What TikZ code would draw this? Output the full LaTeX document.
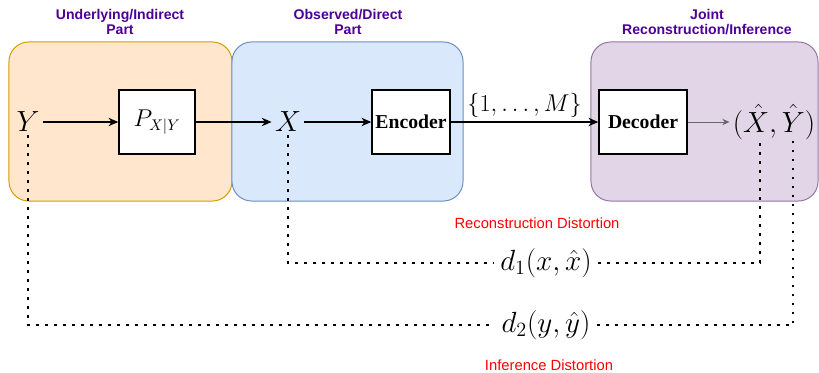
\documentclass[tikz,border=0pt]{standalone}
\usepackage{amsmath}
\usepackage{fontspec}
\setsansfont{Liberation Sans}
\newfontfamily\timesfont{Liberation Serif}
\usepackage{tikz}
\usetikzlibrary{arrows.meta}
\usetikzlibrary{calc}
\usetikzlibrary{positioning}

\definecolor{orfill}{HTML}{FFE6CC}
\definecolor{ordraw}{HTML}{D79B00}
\definecolor{blfill}{HTML}{DAE8FC}
\definecolor{bldraw}{HTML}{6C8EBF}
\definecolor{pufill}{HTML}{E1D5E7}
\definecolor{pudraw}{HTML}{9673A6}
\definecolor{titlecol}{HTML}{4C0099}

\begin{document}
\begin{tikzpicture}[x=0.025cm,y=-0.025cm,>={Stealth[length=7pt,width=6pt]},line width=0.9pt]
	\tikzstyle{region}=[draw, rounded corners=14pt, line width=0.7pt, minimum height=3.975cm]
	\tikzstyle{block}=[draw=black, fill=white, line width=1pt, minimum width=1.9cm, minimum height=1.6cm, inner sep=0pt]
	\tikzstyle{title}=[text=titlecol, font=\sffamily\bfseries\fontsize{10}{11.3}\selectfont, align=center, inner sep=0pt]
	\tikzstyle{red label}=[text=red, font=\sffamily\fontsize{10.5}{12}\selectfont, inner sep=0pt]
	\tikzstyle{var}=[font=\fontsize{20}{24}\selectfont, inner sep=2pt]
	\tikzstyle{dist}=[dotted, line width=2pt, dash pattern=on 2pt off 4.4pt]
	\useasboundingbox (0,0) rectangle (819,373);

	% regions
	\node[region, fill=orfill, draw=ordraw, minimum width=5.575cm] (under) at (120.5,121.5) {};
	\node[region, fill=blfill, draw=bldraw, minimum width=5.775cm] (obs) at (347.5,121.5) {};
	\node[region, fill=pufill, draw=pudraw, minimum width=5.675cm] (joint) at (704.5,121.5) {};

	\node[title] (tunder) at (120,22) {Underlying/Indirect\\Part};
	\node[title] (tobs) at (348,22) {Observed/Direct\\Part};
	\node[title] (tjoint) at (707,22) {Joint\\Reconstruction/Inference};

	% chain
	\node[var] (Y) at (28,122) {$Y$};
	\node[block] (P) at (157,122) {\fontsize{16}{19}\selectfont$P_{X|Y}$};
	\node[var] (X) at (288,122) {$X$};
	\node[block, minimum width=1.95cm] (enc) at (411,122) {\timesfont\bfseries\fontsize{14}{16}\selectfont Encoder};
	\node[block, minimum width=2.2cm] (dec) at (643,122) {\timesfont\bfseries\fontsize{14}{16}\selectfont Decoder};
	\node[var] (out) at (774,122) {$(\hat{X},\hat{Y})$};
	\coordinate (xh) at (760,140);
	\coordinate (yh) at (793,140);

	\draw[->] (Y) -- (P);
	\draw[->] (P) -- (X);
	\draw[->] (X) -- (enc);
	\draw[->] (enc) -- node[above, font=\fontsize{19}{23}\selectfont, inner sep=3pt] {$\{1,\dots,M\}$} (dec);
	\draw[->, draw=black!60, line width=0.6pt, >={Stealth[length=5pt,width=4.5pt]}] (dec) -- (out);

	% distortions
	\node[var, font=\fontsize{21}{25}\selectfont, inner sep=4pt] (d1) at (546,263) {$d_1(x,\hat{x})$};
	\node[var, font=\fontsize{21}{25}\selectfont, inner sep=4pt] (d2) at (546,325) {$d_2(y,\hat{y})$};
	\node[red label] (rec) at (537,223) {Reconstruction Distortion};
	\node[red label] (inf) at (549,365) {Inference Distortion};

	\draw[dist] (X.south) |- (d1.west);
	\draw[dist] (d1.east) -| (xh);
	\draw[dist] (Y.south) |- (d2.west);
	\draw[dist] (d2.east) -| (yh);
\end{tikzpicture}
\end{document}
